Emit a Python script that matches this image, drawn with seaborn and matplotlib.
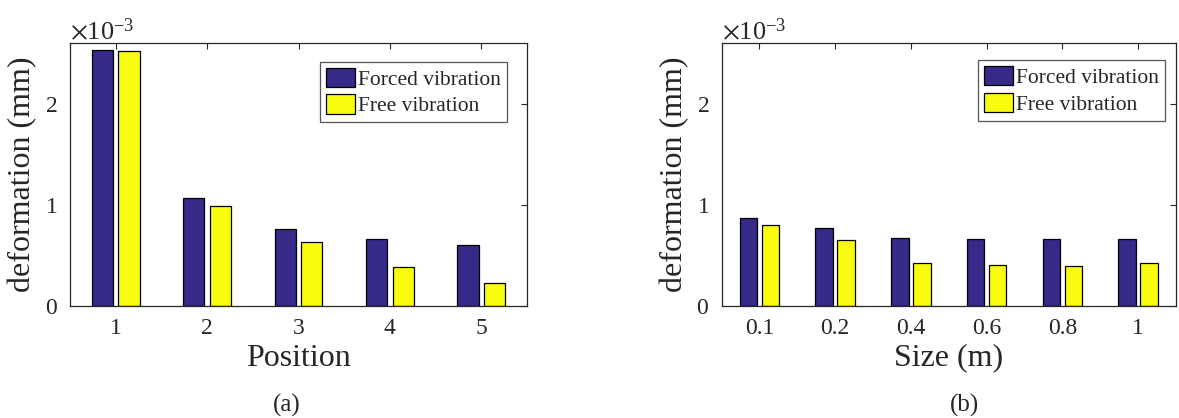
import pandas as pd
import seaborn as sns
import matplotlib.pyplot as plt
from matplotlib.patches import Patch
from matplotlib.ticker import ScalarFormatter

# Values (deformation in mm)
position_labels = ["1", "2", "3", "4", "5"]
position_forced = [2.535e-3, 1.066e-3, 0.762e-3, 0.662e-3, 0.603e-3]
position_free = [2.530e-3, 0.993e-3, 0.629e-3, 0.384e-3, 0.231e-3]

size_labels = ["0.1", "0.2", "0.4", "0.6", "0.8", "1"]
size_forced = [0.871e-3, 0.768e-3, 0.675e-3, 0.665e-3, 0.665e-3, 0.668e-3]
size_free = [0.804e-3, 0.655e-3, 0.424e-3, 0.407e-3, 0.394e-3, 0.430e-3]

series_names = ["Forced vibration", "Free vibration"]
colors = ["#352A87", "#F9FB0E"]

sns.set_style("white")
plt.rcParams["font.family"] = ["Liberation Serif", "DejaVu Serif"]
plt.rcParams["mathtext.fontset"] = "stix"
plt.rcParams["text.color"] = "#262626"


def make_frame(labels, forced, free):
    return pd.DataFrame({
        "x": labels * 2,
        "deformation": forced + free,
        "type": [series_names[0]] * len(labels) + [series_names[1]] * len(labels),
    })


def draw_panel(ax, labels, forced, free, xlabel, legend_anchor):
    data = make_frame(labels, forced, free)
    sns.barplot(data = data, x = "x", y = "deformation", hue = "type",
                order = labels, hue_order = series_names, palette = colors,
                width = 0.58, gap = 0.2, edgecolor = "black", linewidth = 0.9,
                saturation = 1, legend = False, ax = ax)
    ax.set_ylim(0, 2.6e-3)
    ax.set_yticks([0, 1e-3, 2e-3])
    fmt = ScalarFormatter(useMathText = True)
    fmt.set_powerlimits((-2, 2))
    ax.yaxis.set_major_formatter(fmt)
    ax.yaxis.get_offset_text().set_fontsize(19)
    ax.set_xlabel(xlabel, fontsize = 23, labelpad = 3, color = "#262626")
    ax.set_ylabel("deformation (mm)", fontsize = 23, labelpad = 5, color = "#262626")
    ax.tick_params(direction = "in", length = 4, width = 0.8, top = True, right = True,
                   labelsize = 17, color = "#262626", labelcolor = "#262626", pad = 9)
    for spine in ax.spines.values():
        spine.set_visible(True)
        spine.set_color("#262626")
        spine.set_linewidth(0.9)
    handles = [Patch(facecolor = c, edgecolor = "black", linewidth = 0.9) for c in colors]
    leg = ax.legend(handles, series_names, loc = "upper right", bbox_to_anchor = legend_anchor,
                    borderaxespad = 0, fontsize = 15.5, fancybox = False, framealpha = 1,
                    edgecolor = "#555555", handlelength = 1.35, handleheight = 1.0,
                    handletextpad = 0.15, labelspacing = 0.22, borderpad = 0.28)
    leg.get_frame().set_linewidth(0.9)


fig = plt.figure(figsize = (11.79, 4.18), dpi = 100)
ax_a = fig.add_axes([0.0594, 0.268, 0.3876, 0.628])
ax_b = fig.add_axes([0.612, 0.268, 0.3855, 0.628])

draw_panel(ax_a, position_labels, position_forced, position_free, "Position", (0.956, 0.931))
draw_panel(ax_b, size_labels, size_forced, size_free, "Size (m)", (0.976, 0.937))

fig.text(0.243, 0.031, "(a)", ha = "center", va = "center", fontsize = 18)
fig.text(0.818, 0.031, "(b)", ha = "center", va = "center", fontsize = 18)

fig.savefig("out.png", dpi = 100)
